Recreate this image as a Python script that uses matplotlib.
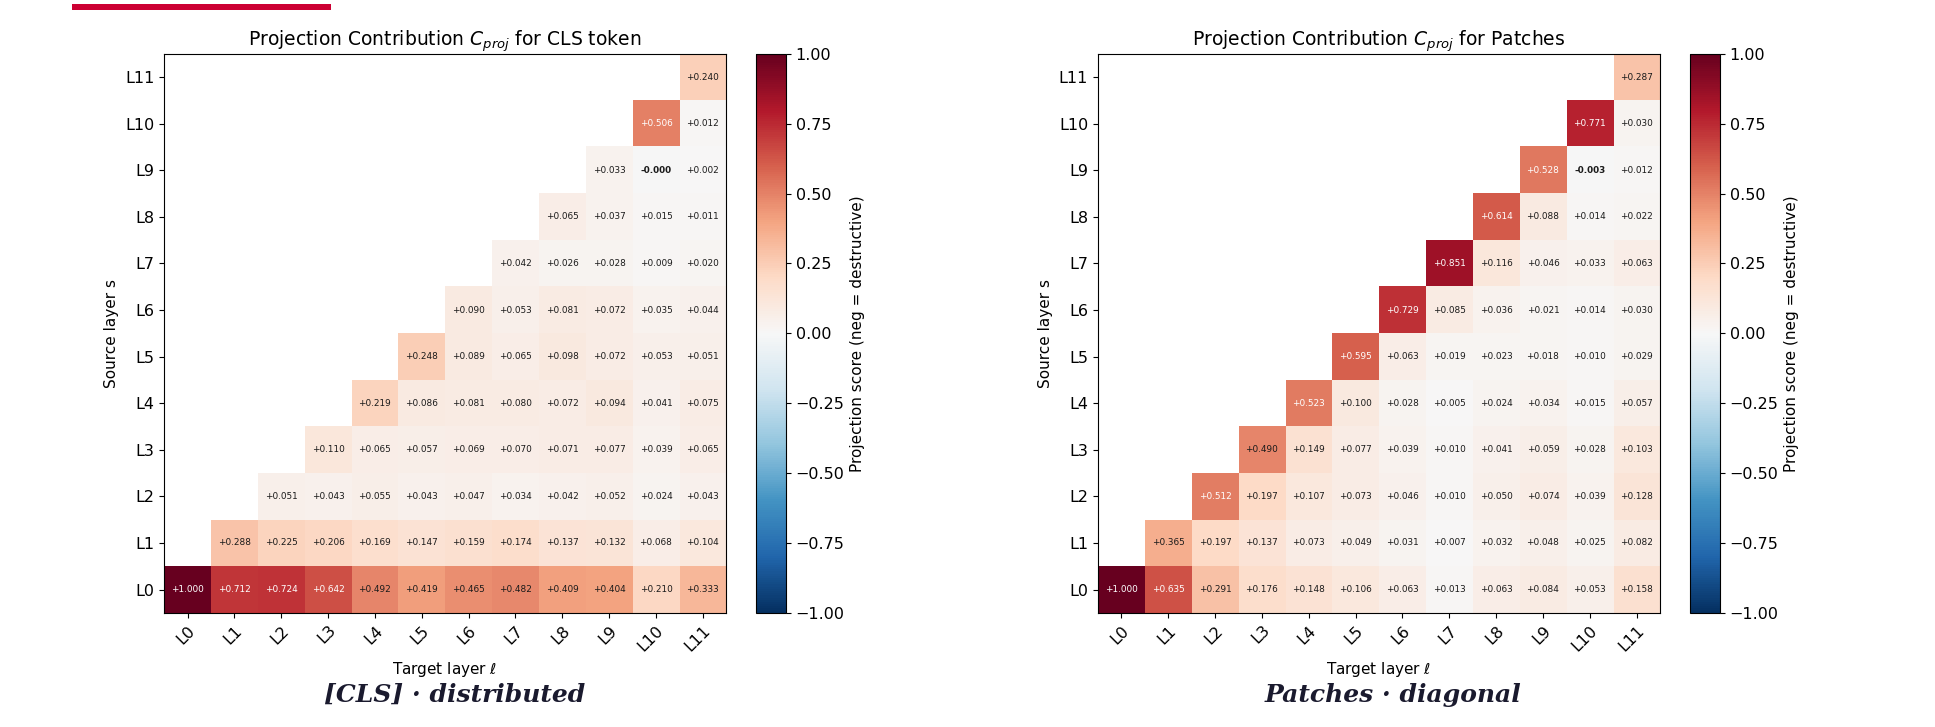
import numpy as np
import matplotlib
matplotlib.use("Agg")
import matplotlib.pyplot as plt
from matplotlib.patches import Rectangle

layers = [f"L{i}" for i in range(12)]

# values per source layer s (targets from s to L11)
cls_rows = [
    [1.000, 0.712, 0.724, 0.642, 0.492, 0.419, 0.465, 0.482, 0.409, 0.404, 0.210, 0.333],
    [0.288, 0.225, 0.206, 0.169, 0.147, 0.159, 0.174, 0.137, 0.132, 0.068, 0.104],
    [0.051, 0.043, 0.055, 0.043, 0.047, 0.034, 0.042, 0.052, 0.024, 0.043],
    [0.110, 0.065, 0.057, 0.069, 0.070, 0.071, 0.077, 0.039, 0.065],
    [0.219, 0.086, 0.081, 0.080, 0.072, 0.094, 0.041, 0.075],
    [0.248, 0.089, 0.065, 0.098, 0.072, 0.053, 0.051],
    [0.090, 0.053, 0.081, 0.072, 0.035, 0.044],
    [0.042, 0.026, 0.028, 0.009, 0.020],
    [0.065, 0.037, 0.015, 0.011],
    [0.033, -0.0003, 0.002],
    [0.506, 0.012],
    [0.240],
]

patch_rows = [
    [1.000, 0.635, 0.291, 0.176, 0.148, 0.106, 0.063, 0.013, 0.063, 0.084, 0.053, 0.158],
    [0.365, 0.197, 0.137, 0.073, 0.049, 0.031, 0.007, 0.032, 0.048, 0.025, 0.082],
    [0.512, 0.197, 0.107, 0.073, 0.046, 0.010, 0.050, 0.074, 0.039, 0.128],
    [0.490, 0.149, 0.077, 0.039, 0.010, 0.041, 0.059, 0.028, 0.103],
    [0.523, 0.100, 0.028, 0.005, 0.024, 0.034, 0.015, 0.057],
    [0.595, 0.063, 0.019, 0.023, 0.018, 0.010, 0.029],
    [0.729, 0.085, 0.036, 0.021, 0.014, 0.030],
    [0.851, 0.116, 0.046, 0.033, 0.063],
    [0.614, 0.088, 0.014, 0.022],
    [0.528, -0.003, 0.012],
    [0.771, 0.030],
    [0.287],
]

titles = [r"Projection Contribution $C_{proj}$ for CLS token",
          r"Projection Contribution $C_{proj}$ for Patches"]
captions = ["[CLS] · distributed", "Patches · diagonal"]


def to_matrix(rows):
    n = len(layers)
    m = np.full((n, n), np.nan)
    for s, row in enumerate(rows):
        for k, v in enumerate(row):
            m[s, s + k] = v
    return m


fig = plt.figure(figsize=(19.35, 7.27), dpi=100)

# decorative red bar at top-left
fig.add_artist(Rectangle((72 / 1935, 1 - 10 / 727), 259 / 1935, 6 / 727,
                         transform=fig.transFigure, color="#cc0033", lw=0))

ax_pos = [[0.0848, 0.157, 0.2905, 0.769], [0.5674, 0.157, 0.2905, 0.769]]
cb_pos = [[0.3907, 0.157, 0.0155, 0.769], [0.8734, 0.157, 0.0155, 0.769]]
cap_x = [0.235, 0.720]

for i, rows in enumerate([cls_rows, patch_rows]):
    M = to_matrix(rows)
    ax = fig.add_axes(ax_pos[i])
    im = ax.imshow(np.ma.masked_invalid(M), cmap="RdBu_r", vmin=-1, vmax=1,
                   origin="lower", aspect="auto", interpolation="nearest")
    n = len(layers)
    for s in range(n):
        for t in range(n):
            v = M[s, t]
            if np.isnan(v):
                continue
            color = "white" if v > 0.5 else "#1a1a1a"
            weight = "bold" if np.signbit(v) else "normal"
            ax.text(t, s, f"{v:+.3f}", ha="center", va="center",
                    fontsize=6.4, color=color, fontweight=weight)
    ax.set_xticks(range(n))
    ax.set_xticklabels(layers, rotation=45, ha="right", rotation_mode="anchor",
                       fontsize=11.5)
    ax.set_yticks(range(n))
    ax.set_yticklabels(layers, fontsize=11.5)
    ax.set_xlabel(r"Target layer $\ell$", fontsize=11)
    ax.set_ylabel("Source layer s", fontsize=11)
    ax.set_title(titles[i], fontsize=13.5, pad=6)

    cax = fig.add_axes(cb_pos[i])
    cb = fig.colorbar(im, cax=cax)
    cb.set_ticks([-1, -0.75, -0.5, -0.25, 0, 0.25, 0.5, 0.75, 1])
    cb.ax.tick_params(labelsize=11.5)
    cb.set_label("Projection score (neg = destructive)", fontsize=11)

    fig.text(cap_x[i], 1 - 695 / 727, captions[i], ha="center", va="center",
             fontsize=18, fontstyle="italic", fontweight="bold",
             family="DejaVu Serif", color="#1a1a2e")

fig.savefig("out.png", dpi=100)
